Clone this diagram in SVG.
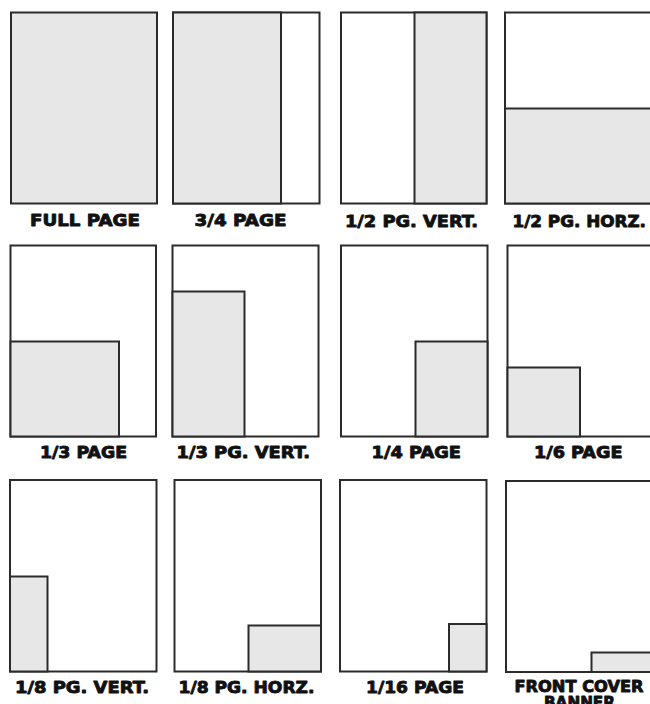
<svg xmlns="http://www.w3.org/2000/svg" width="650" height="704" viewBox="0 0 650 704">
<style>
.pg{fill:#fff;stroke:#2b2b2b;stroke-width:2}
.ad{fill:#e7e7e7;stroke:#2b2b2b;stroke-width:2}
.lb{font-family:"DejaVu Sans","Liberation Sans",sans-serif;font-weight:bold;font-size:16.5px;fill:#111;stroke:#111;stroke-width:0.9;stroke-linejoin:round}
.sm{font-size:15.5px}
</style>
<rect width="650" height="704" fill="#fff"/>
<g id="full-page">
<rect class="ad" x="11" y="12.5" width="146" height="191"/>
<text class="lb" x="30" y="226" textLength="110" lengthAdjust="spacingAndGlyphs">FULL PAGE</text>
</g>
<g id="three-quarter-page">
<rect class="pg" x="173" y="12.5" width="146.5" height="191"/>
<rect class="ad" x="173" y="12.5" width="108" height="191"/>
<text class="lb" x="194.5" y="226" textLength="92" lengthAdjust="spacingAndGlyphs">3/4 PAGE</text>
</g>
<g id="half-page-vert">
<rect class="pg" x="341" y="12.5" width="145.5" height="191"/>
<rect class="ad" x="414.5" y="12.5" width="72" height="191"/>
<text class="lb" x="345" y="226.5" textLength="133" lengthAdjust="spacingAndGlyphs">1/2 PG. VERT.</text>
</g>
<g id="half-page-horz">
<rect class="pg" x="505" y="12.5" width="147" height="191"/>
<rect class="ad" x="505" y="108.5" width="147" height="95"/>
<text class="lb" x="512.5" y="226.5" textLength="133.5" lengthAdjust="spacingAndGlyphs">1/2 PG. HORZ.</text>
</g>
<g id="third-page">
<rect class="pg" x="10.5" y="245.5" width="145.5" height="191"/>
<rect class="ad" x="10.5" y="341.5" width="108.5" height="95"/>
<text class="lb" x="40" y="458" textLength="87" lengthAdjust="spacingAndGlyphs">1/3 PAGE</text>
</g>
<g id="third-page-vert">
<rect class="pg" x="172.5" y="245.5" width="146" height="191"/>
<rect class="ad" x="172.5" y="291.5" width="72" height="145"/>
<text class="lb" x="176.5" y="458" textLength="133.5" lengthAdjust="spacingAndGlyphs">1/3 PG. VERT.</text>
</g>
<g id="quarter-page">
<rect class="pg" x="341" y="245.5" width="146.5" height="191"/>
<rect class="ad" x="415.5" y="341.5" width="72" height="95"/>
<text class="lb" x="371.5" y="458" textLength="89.5" lengthAdjust="spacingAndGlyphs">1/4 PAGE</text>
</g>
<g id="sixth-page">
<rect class="pg" x="507.5" y="245.5" width="144.5" height="191"/>
<rect class="ad" x="507.5" y="367.5" width="72.5" height="69"/>
<text class="lb" x="534" y="458" textLength="88.5" lengthAdjust="spacingAndGlyphs">1/6 PAGE</text>
</g>
<g id="eighth-page-vert">
<rect class="pg" x="10" y="480" width="146.5" height="191.5"/>
<rect class="ad" x="10" y="576.5" width="37.5" height="95"/>
<text class="lb" x="15" y="692.5" textLength="134" lengthAdjust="spacingAndGlyphs">1/8 PG. VERT.</text>
</g>
<g id="eighth-page-horz">
<rect class="pg" x="174.5" y="480" width="146.5" height="191.5"/>
<rect class="ad" x="248.5" y="625.5" width="72.5" height="46"/>
<text class="lb" x="178.5" y="692.5" textLength="136" lengthAdjust="spacingAndGlyphs">1/8 PG. HORZ.</text>
</g>
<g id="sixteenth-page">
<rect class="pg" x="340" y="480" width="146.5" height="191.5"/>
<rect class="ad" x="449" y="624" width="37.5" height="47.5"/>
<text class="lb" x="366" y="693" textLength="98" lengthAdjust="spacingAndGlyphs">1/16 PAGE</text>
</g>
<g id="front-cover-banner">
<rect class="pg" x="506" y="481" width="146" height="191"/>
<rect class="ad" x="591.5" y="652.5" width="60.5" height="19.5"/>
<text class="lb sm" x="514.5" y="691.5" textLength="129" lengthAdjust="spacingAndGlyphs">FRONT COVER</text>
<text class="lb sm" x="544" y="708" textLength="71" lengthAdjust="spacingAndGlyphs">BANNER</text>
</g>
<g id="connectors"/>
</svg>
